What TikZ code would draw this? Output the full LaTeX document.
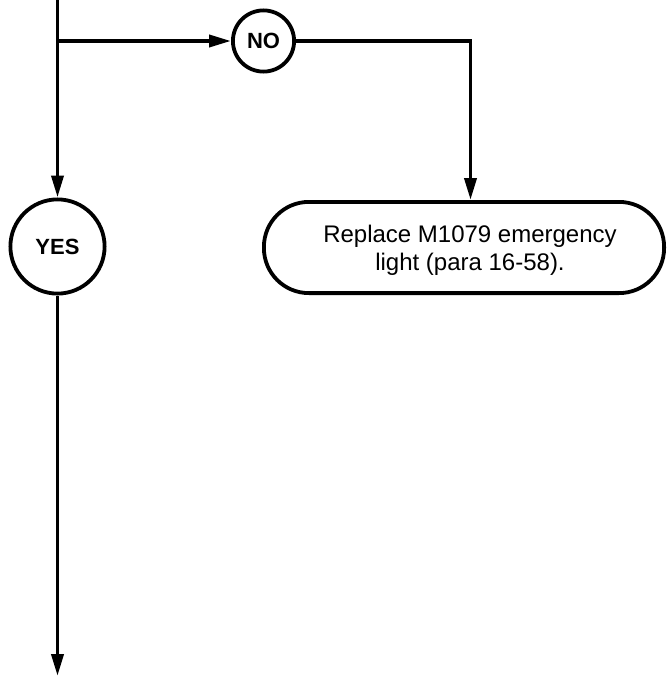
\documentclass[tikz,border=0pt]{standalone}
\usepackage{fontspec}
\setmainfont{Liberation Sans}
\usetikzlibrary{arrows.meta}

\begin{document}
\begin{tikzpicture}[x=1pt,y=-1pt,
  flow/.style={line width=3.8pt},
  arr/.style={flow,-{Triangle[length=22pt,width=12pt]}},
  answer/.style={circle,draw,line width=3.8pt,inner sep=0pt,
    font=\fontsize{22}{26}\selectfont\bfseries},
  action/.style={draw,line width=3.8pt,rounded corners=45pt,inner sep=0pt,
    minimum width=400.2pt,minimum height=91.2pt},
  actiontext/.style={align=center,font=\fontsize{24}{28}\selectfont}]
  \useasboundingbox (0,0) rectangle (667,677);

  % answer circles
  \node[answer,minimum size=61.2pt] (no) at (263.5,41) {NO};
  \node[answer,minimum size=94.2pt] (yes) at (57.5,246.5) {YES};

  % action box and its text
  \node[action] (replace) at (464,247.5) {};
  \node[actiontext] (replacetext) at (470,250) {Replace M1079 emergency\\light (para 16-58).};

  % junctions of the flow lines
  \coordinate (top) at (57.5,0);
  \coordinate (branch) at (57.5,41);
  \coordinate (turn) at (470.5,41);
  \coordinate (bottom) at (57.5,676);

  % connectors
  \draw[arr] (top) -- (yes.north);
  \draw[arr] (branch) -- (no.west);
  \draw[arr] (no.east) -- (turn) -- (turn |- replace.north);
  \draw[arr] (yes.south) -- (bottom);
\end{tikzpicture}
\end{document}
